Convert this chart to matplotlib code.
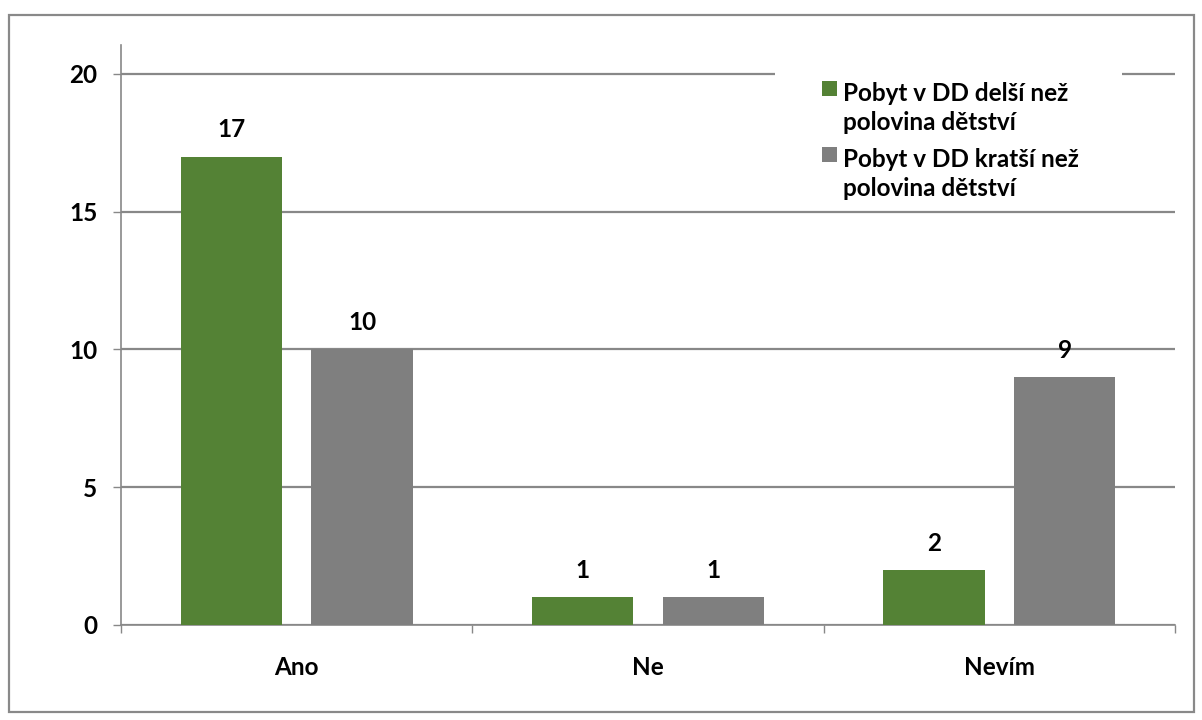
import numpy as np
import matplotlib.pyplot as plt
from matplotlib.patches import Rectangle

categories = ['Ano', 'Ne', 'Nevím']
series_names = ['Pobyt v DD delší než\npolovina dětství',
                'Pobyt v DD kratší než\npolovina dětství']
longer_half = [17, 1, 2]
shorter_half = [10, 1, 9]
yticks = [0, 5, 10, 15, 20]

colors = ['#548235', '#7f7f7f']
grid_color = '#888888'

plt.rcParams['font.family'] = ['Lato', 'DejaVu Sans']
plt.rcParams['font.weight'] = 'bold'
fs = 17.5

W, H = 1202, 720
fig = plt.figure(figsize=(W / 100, H / 100), dpi=100)

# outer chart frame
fig.patches.append(Rectangle((9 / W, 1 - 712 / H), (1194 - 9) / W, (712 - 15) / H,
                             transform=fig.transFigure, fill=False,
                             edgecolor='#898989', linewidth=1.6))

ax = fig.add_axes([121 / W, 1 - 625 / H, (1175 - 121) / W, (625 - 45) / H])

x = np.arange(len(categories))
width = 0.288
offset = 0.186
for vals, off, c in [(longer_half, -offset, colors[0]), (shorter_half, offset, colors[1])]:
    bars = ax.bar(x + off, vals, width, color=c, zorder=3)
    for b, v in zip(bars, vals):
        ax.text(b.get_x() + b.get_width() / 2, v + 0.55, str(v), ha='center', va='bottom',
                fontsize=fs, fontweight='bold', zorder=4)

ax.set_xlim(-0.5, 2.5)
ax.set_ylim(0, 21.05)
ax.set_yticks(yticks)
ax.set_yticklabels([str(t) for t in yticks], fontsize=fs, fontweight='bold')
ax.set_xticks(x)
ax.set_xticklabels(categories, fontsize=fs, fontweight='bold')
ax.set_xticks([-0.5, 0.5, 1.5, 2.5], minor=True)
ax.tick_params(axis='x', which='major', length=0, pad=22)
ax.tick_params(axis='x', which='minor', length=6, width=1, color=grid_color, direction='out')
ax.tick_params(axis='y', length=6, width=1, color=grid_color, pad=11)

for s in ['top', 'right']:
    ax.spines[s].set_visible(False)
for s in ['left', 'bottom']:
    ax.spines[s].set_color(grid_color)
    ax.spines[s].set_linewidth(1.2)

ax.grid(axis='y', color=grid_color, linewidth=1.6, zorder=0)
ax.set_axisbelow(True)

# legend, drawn by hand so each marker sits on the first text line
fig.patches.append(Rectangle((775 / W, 1 - 205 / H), (1122 - 775) / W, (205 - 62) / H,
                             transform=fig.transFigure, facecolor='white',
                             edgecolor='none', zorder=5))
for i, (name, c) in enumerate(zip(series_names, colors)):
    base = 98 + i * 66
    fig.patches.append(Rectangle((822 / W, 1 - (base - 2) / H), 15 / W, 15 / H,
                                 transform=fig.transFigure, facecolor=c,
                                 edgecolor='none', zorder=6))
    fig.text(843 / W, 1 - (base + 32) / H, name, ha='left', va='baseline', fontsize=fs,
             fontweight='bold', linespacing=1.3, zorder=7)

fig.savefig('out.png', dpi=100)
